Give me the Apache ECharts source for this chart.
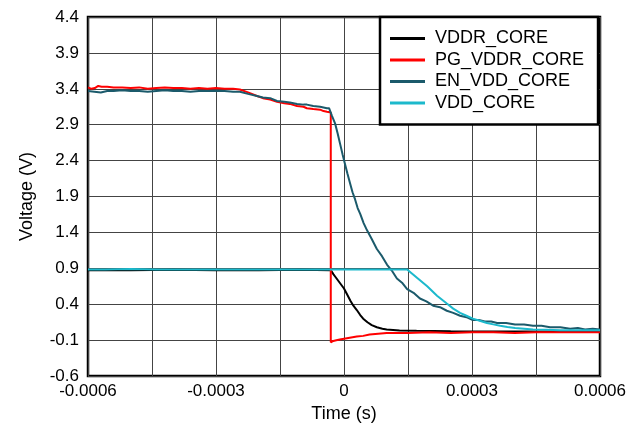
<!DOCTYPE html>
<html>
<head>
<meta charset="utf-8">
<script src="https://cdn.jsdelivr.net/npm/echarts@6/dist/echarts.min.js"></script>
<style>
  html, body { margin: 0; padding: 0; background: #fff; }
  #chart { width: 636px; height: 428px; }
</style>
</head>
<body>
<div id="chart"></div>
<script>
// ---- data (time in microseconds, voltage in V) ----
const seriesNames = ['VDDR_CORE', 'PG_VDDR_CORE', 'EN_VDD_CORE', 'VDD_CORE'];
const seriesColors = ['#000000', '#ff0000', '#1b5a6b', '#1cb9cc'];

const vddrTimeUs = [-600,-500,-400,-300,-200,-100,-31,-25,-20,-10,0,8,15,22,30,38,45,55,65,77,90,100,130,170,250,350,450,600];
const vddrVolt   = [0.875,0.875,0.88,0.875,0.875,0.88,0.875,0.82,0.78,0.70,0.62,0.53,0.45,0.38,0.32,0.25,0.20,0.15,0.11,0.08,0.06,0.05,0.035,0.03,0.025,0.02,0.02,0.02];

const pgTimeUs = [-600,-592,-584,-576,-568,-555,-540,-520,-500,-480,-460,-440,-420,-400,-380,-360,-340,-320,-300,-280,-260,-244,-225,-204,-190,-173,-157,-140,-127,-110,-95,-87,-72,-56,-48,-40,-31,-31,-25,-18,-10,0,10,20,30,45,60,80,100,150,200,250,300,350,400,450,500,550,600];
const pgVolt   = [3.42,3.40,3.41,3.44,3.43,3.43,3.42,3.42,3.41,3.42,3.40,3.41,3.42,3.41,3.41,3.40,3.41,3.40,3.41,3.40,3.40,3.39,3.35,3.30,3.27,3.25,3.22,3.20,3.19,3.16,3.15,3.13,3.12,3.11,3.09,3.08,3.07,-0.13,-0.11,-0.10,-0.09,-0.08,-0.07,-0.06,-0.05,-0.04,-0.02,-0.01,0.00,0.00,0.01,0.00,0.01,0.01,0.00,0.01,0.01,0.01,0.01];

const enTimeUs = [-600,-585,-570,-555,-540,-520,-500,-480,-460,-440,-420,-400,-380,-360,-340,-320,-300,-280,-260,-244,-225,-204,-190,-173,-157,-140,-127,-110,-95,-87,-72,-56,-48,-40,-35,-28,-21,-15,-9,-3,2,8,14,20,26,32,38,46,54,65,77,89,101,112,124,136,148,163,178,193,209,225,241,256,272,287,302,316,330,345,359,380,401,422,443,463,483,507,530,548,565,583,600];
const enVolt   = [3.37,3.36,3.35,3.37,3.37,3.38,3.37,3.37,3.36,3.37,3.38,3.37,3.37,3.36,3.37,3.37,3.37,3.37,3.36,3.36,3.33,3.30,3.28,3.27,3.23,3.22,3.21,3.19,3.18,3.18,3.16,3.15,3.14,3.13,3.13,3.02,2.92,2.78,2.63,2.48,2.36,2.22,2.09,1.96,1.86,1.74,1.66,1.53,1.43,1.31,1.17,1.07,0.95,0.87,0.76,0.70,0.61,0.56,0.48,0.44,0.38,0.36,0.31,0.28,0.24,0.22,0.18,0.18,0.16,0.16,0.14,0.14,0.12,0.12,0.10,0.10,0.08,0.08,0.06,0.07,0.05,0.06,0.05];

const vddTimeUs = [-600,-560,-500,-440,-380,-320,-260,-200,-140,-80,-20,40,100,148,171,195,218,241,256,272,287,302,318,335,350,366,383,401,422,443,475,506,550,600];
const vddVolt   = [0.885,0.885,0.89,0.885,0.885,0.885,0.885,0.885,0.885,0.885,0.885,0.885,0.885,0.885,0.77,0.65,0.52,0.41,0.34,0.28,0.24,0.20,0.17,0.14,0.12,0.10,0.085,0.07,0.06,0.05,0.045,0.04,0.04,0.04];

const xTickLabels = ['-0.0006', '-0.0003', '0', '0.0003', '0.0006'];
const yTickLabels = ['-0.6', '-0.1', '0.4', '0.9', '1.4', '1.9', '2.4', '2.9', '3.4', '3.9', '4.4'];

// ---- build ----
function pairs(tUs, v) { return tUs.map((t, i) => [t * 1e-6, v[i]]); }
const allData = [
  pairs(vddrTimeUs, vddrVolt),
  pairs(pgTimeUs, pgVolt),
  pairs(enTimeUs, enVolt),
  pairs(vddTimeUs, vddVolt)
];

const FONT = '"Liberation Sans", Arial, sans-serif';
const chart = echarts.init(document.getElementById('chart'), null, { renderer: 'canvas' });

chart.setOption({
  animation: false,
  backgroundColor: '#ffffff',
  textStyle: { fontFamily: FONT },
  grid: {
    left: 88, right: 36, top: 17, bottom: 50,
    show: true, borderColor: '#000', borderWidth: 2.5, backgroundColor: 'transparent'
  },
  xAxis: {
    type: 'value',
    min: -0.0006, max: 0.0006, interval: 0.00015,
    name: 'Time (s)', nameLocation: 'middle', nameGap: 27,
    nameTextStyle: { fontSize: 18, color: '#000', fontFamily: FONT },
    axisLine: { show: false },
    axisTick: { show: false },
    splitLine: { show: true, lineStyle: { color: '#444', width: 1 } },
    axisLabel: {
      color: '#000', fontSize: 17, fontFamily: FONT, margin: 7,
      formatter: function (v) {
        const k = Math.round(v / 0.00015) + 4;
        return (k % 2 === 0) ? xTickLabels[k / 2] : '';
      }
    }
  },
  yAxis: {
    type: 'value',
    min: -0.6, max: 4.4, interval: 0.5,
    name: 'Voltage (V)', nameLocation: 'middle', nameGap: 52,
    nameTextStyle: { fontSize: 18, color: '#000', fontFamily: FONT },
    axisLine: { show: false },
    axisTick: { show: false },
    splitLine: { show: true, lineStyle: { color: '#444', width: 1 } },
    axisLabel: {
      color: '#000', fontSize: 17, fontFamily: FONT, margin: 9,
      formatter: function (v) {
        const k = Math.round((v + 0.6) / 0.5);
        return yTickLabels[k] !== undefined ? yTickLabels[k] : '';
      }
    }
  },
  legend: {
    orient: 'vertical',
    left: 380, top: 17,
    data: seriesNames,
    icon: 'rect',
    itemWidth: 35, itemHeight: 3, itemGap: 3.5,
    padding: [12.5, 14, 12.5, 10],
    borderColor: '#000', borderWidth: 2.5, backgroundColor: '#fff',
    textStyle: { fontSize: 18, color: '#000', fontFamily: FONT, lineHeight: 18, padding: [0, 0, 0, 5] }
  },
  series: seriesNames.map((name, i) => ({
    name: name,
    type: 'line',
    data: allData[i],
    showSymbol: false,
    symbol: 'none',
    color: seriesColors[i],
    lineStyle: { width: 2, color: seriesColors[i] },
    z: 2 + i
  }))
});
</script>
</body>
</html>
